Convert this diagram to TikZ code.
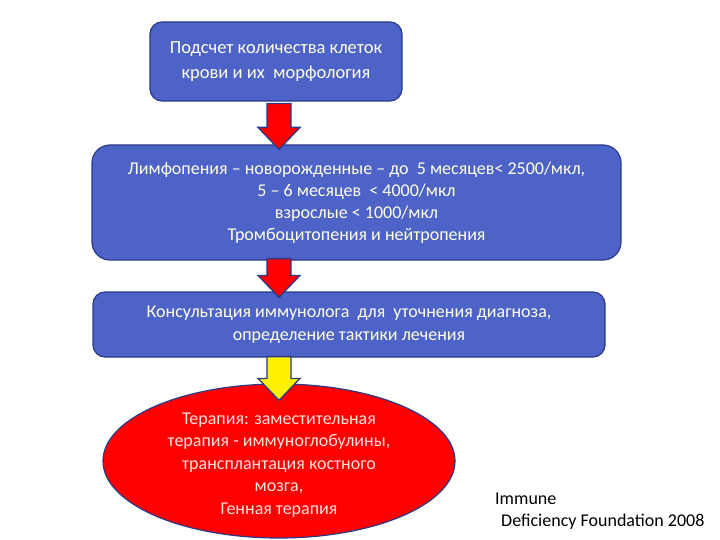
\documentclass[tikz,border=0pt]{standalone}
\usepackage{fontspec}
\setmainfont{Carlito}
\usetikzlibrary{calc,shapes.geometric}

\definecolor{boxblue}{RGB}{78,99,200}
\definecolor{edgeblue}{RGB}{42,58,135}
\definecolor{lighttext}{RGB}{255,255,225}
\definecolor{pinktext}{RGB}{255,225,225}

\tikzset{
  stepbox/.style={draw=edgeblue, line width=1.2pt, fill=boxblue, text=lighttext,
    align=center, inner sep=0pt, font=\fontsize{18}{23}\selectfont},
  blockarrow/.style={draw=edgeblue, line width=1.3pt, line join=miter},
}

% block arrow from top point #1 to tip #2, filled with #3
\newcommand{\blockarrow}[3]{%
  \path[blockarrow, fill=#3] ($(#1)+(-12,0)$) -- ($(#2)+(-12,-22)$) -- ($(#2)+(-21,-22)$)
    -- (#2) -- ($(#2)+(21,-22)$) -- ($(#2)+(12,-22)$) -- ($(#1)+(12,0)$) -- cycle;}

\begin{document}
\begin{tikzpicture}[x=1pt, y=-1pt]
  \useasboundingbox (0,0) rectangle (720,540);

  % Boxes
  \node[stepbox, rounded corners=12pt, minimum width=252pt, minimum height=79pt,
    font=\fontsize{18.5}{25}\selectfont] (count) at (276,61.5)
    {Подсчет количества клеток\\крови и их\ \ морфология};
  \node[stepbox, rounded corners=18pt, minimum width=529pt, minimum height=115pt,
    font=\fontsize{18}{22}\selectfont] (lymph) at (356.5,202.5)
    {Лимфопения – новорожденные – до\ \ 5 месяцев< 2500/мкл,\\
     5 – 6 месяцев\ \ < 4000/мкл\\
     взрослые < 1000/мкл\\
     Тромбоцитопения и нейтропения};
  \node[stepbox, rounded corners=12pt, minimum width=512pt, minimum height=65pt] (consult) at (349,324.5)
    {Консультация иммунолога\ \ для\ \ уточнения диагноза,\\
     определение тактики лечения};
  \node[ellipse, draw=edgeblue, line width=1.2pt, fill=red, inner sep=0pt,
    minimum width=352pt, minimum height=154pt] (therapy) at (279,461) {};
  \node[text=pinktext, align=center, inner sep=0pt, font=\fontsize{18}{22.5}\selectfont]
    (therapytext) at ($(therapy.center)+(0,4)$)
    {Терапия: заместительная\\
     терапия - иммуноглобулины,\\
     трансплантация костного\\
     мозга,\\
     Генная терапия};

  % Coordinates
  \coordinate (a1top) at ($(count.south -| therapy.north)+(0,2)$);
  \coordinate (a1tip) at ($(lymph.north -| therapy.north)+(0,5)$);
  \coordinate (a2top) at ($(lymph.south -| therapy.north)+(0,-2)$);
  \coordinate (a2tip) at ($(consult.north -| therapy.north)+(0,6)$);
  \coordinate (a3top) at ($(consult.south -| therapy.north)+(0,-1)$);
  \coordinate (a3tip) at ($(therapy.north)+(0,17)$);

  % Arrows
  \blockarrow{a1top}{a1tip}{red}
  \blockarrow{a2top}{a2tip}{red}
  \blockarrow{a3top}{a3tip}{yellow}

  \node[anchor=north west, align=left, inner sep=0pt, font=\fontsize{18}{22}\selectfont] (source) at (495,493)
    {Immune\\\hspace*{6pt}Deficiency Foundation 2008};
\end{tikzpicture}
\end{document}
